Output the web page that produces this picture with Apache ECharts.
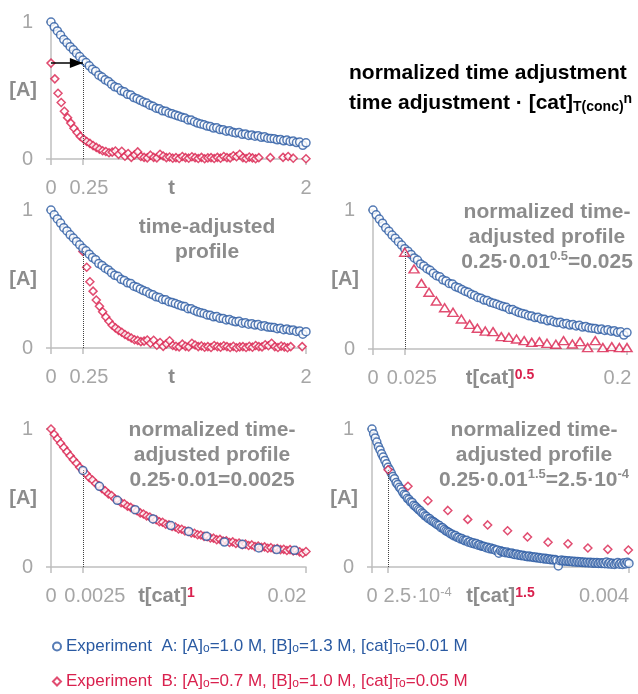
<!DOCTYPE html>
<html><head><meta charset="utf-8">
<script src="https://cdn.jsdelivr.net/npm/echarts@6/dist/echarts.min.js"></script>
<style>html,body{margin:0;padding:0;background:#fff}#c{width:638px;height:694px}</style>
</head><body><div id="c"></div>
<script>
// ---------- data ----------
// Experiment A sampling times and normalized [A]
const blueT = [0,0.025,0.05,0.075,0.1,0.125,0.15,0.175,0.2,0.225,0.25,0.275,0.3,0.325,0.35,0.375,0.4,0.425,0.45,0.475,0.5,0.525,0.55,0.575,0.6,0.625,0.65,0.675,0.7,0.725,0.75,0.775,0.8,0.825,0.85,0.875,0.9,0.925,0.95,0.975,1,1.025,1.05,1.075,1.1,1.125,1.15,1.175,1.2,1.225,1.25,1.275,1.3,1.325,1.35,1.375,1.4,1.425,1.45,1.475,1.5,1.525,1.55,1.575,1.6,1.625,1.65,1.675,1.7,1.725,1.75,1.775,1.8,1.825,1.85,1.875,1.9,1.925,1.95,1.975,2,2.025,2.05,2.075,2.1,2.125,2.15,2.175,2.2,2.225,2.25,2.275,2.3,2.325,2.35,2.375,2.4,2.425,2.45,2.475,2.5,2.525,2.55,2.575,2.6,2.625,2.65,2.675,2.7,2.725,2.75,2.775,2.8,2.825,2.85,2.875,2.9,2.925,2.95,2.975,3,3.025,3.05,3.075,3.1,3.125,3.15,3.175,3.2,3.225,3.25,3.275,3.3,3.325,3.35,3.375,3.4,3.425,3.45,3.475,3.5,3.525,3.55,3.575,3.6,3.625,3.65,3.675,3.7,3.725,3.75,3.775,3.8,3.825,3.85,3.875,3.9,3.925,3.95,3.975,4];
const blueA = [1.000,0.965,0.935,0.905,0.872,0.848,0.820,0.797,0.772,0.748,
0.722,0.704,0.680,0.655,0.640,0.612,0.598,0.578,0.566,0.545,
0.527,0.520,0.498,0.490,0.472,0.468,0.448,0.440,0.428,0.416,
0.408,0.393,0.385,0.371,0.366,0.352,0.349,0.336,0.330,0.322,
0.313,0.305,0.300,0.285,0.284,0.272,0.262,0.256,0.250,0.240,
0.237,0.226,0.228,0.215,0.214,0.203,0.206,0.196,0.190,0.193,
0.180,0.183,0.172,0.176,0.166,0.170,0.158,0.162,0.152,0.150,
0.148,0.140,0.143,0.133,0.138,0.128,0.131,0.120,0.124,0.100,
0.118,
0.112,0.110,0.104,0.108,0.100,0.098,0.102,0.094,0.090,0.095,
0.086,0.088,0.082,0.085,0.078,0.080,0.074,0.079,0.072,0.075,
0.068,0.072,0.065,0.068,0.062,0.066,0.058,0.063,0.056,0.060,
0.053,0.057,0.050,0.055,0.048,0.008,0.046,0.050,0.043,0.047,
0.041,0.045,0.039,0.043,0.037,0.041,0.035,0.039,0.034,0.038,
0.032,0.036,0.030,0.035,0.029,0.034,0.028,0.033,0.027,0.032,
0.026,0.031,0.025,0.030,0.024,0.036,0.022,0.030,0.020,0.028,
0.018,0.026,0.032,0.020,0.028,0.018,0.030,0.022,0.034,0.026];

// Experiment B sampling times and [A]
const redT = [0,0.03,0.055,0.08,0.105,0.13,0.155,0.18,0.205,0.23,
0.255,0.28,0.305,0.33,0.355,0.38,0.405,0.43,0.455,0.48,
0.505,0.53,0.555,0.58,0.605,0.63,0.655,0.68,0.705,0.73,
0.755,0.78,0.805,0.83,0.855,0.88,0.905,0.93,0.955,0.98,
1.005,1.03,1.055,1.08,1.105,1.13,1.155,1.18,1.205,1.23,
1.255,1.28,1.305,1.33,1.355,1.38,1.405,1.43,1.455,1.48,
1.505,1.53,1.555,1.58,1.605,1.63,1.72,1.82,1.86,1.9,2];
const redA = [0.700,0.585,0.480,0.412,0.348,0.302,0.262,0.224,0.194,0.165,
0.146,0.128,0.114,0.098,0.085,0.072,0.060,0.055,0.046,0.050,
0.058,0.034,0.056,0.020,0.040,0.012,0.030,0.052,0.018,0.012,
0.008,0.028,0.012,0.008,0.034,0.022,0.010,0.015,0.006,0.010,
0.004,0.018,0.010,0.006,0.016,0.010,0.004,0.012,0.002,0.008,
0.010,0.004,0.012,0.006,0.018,0.010,0.008,0.024,0.016,0.034,
0.010,0.004,0.014,0.008,0.002,0.010,0.010,0.012,0.018,0.006,
0.002];

// panel 3: experiment B, t[cat]^0.5 (triangles)
const triX = [0.025,0.0323,0.0381,0.0441,0.0499,0.0564,0.063,0.0696,0.0761,0.0822,0.0884,0.0945,0.101,0.107,0.113,0.119,0.125,0.131,0.137,0.144,0.150,0.157,0.163,0.169,0.175,0.181,0.188,0.194,0.200];
const triA = [0.696,0.576,0.472,0.408,0.345,0.297,0.264,0.216,0.177,0.149,0.129,0.125,0.089,0.084,0.072,0.060,0.048,0.053,0.041,0.034,0.060,0.036,0.053,0.010,0.060,0.010,0.017,0.010,0.010];

// panel 4: dense experiment B profile (on blueT grid, x = t*0.01), sparse experiment A
const red4A = [1.000,0.962,0.930,0.897,0.866,0.836,0.806,0.778,0.752,0.722,
0.700,0.676,0.648,0.630,0.605,0.590,0.568,0.552,0.530,0.518,
0.495,0.484,0.466,0.458,0.440,0.432,0.418,0.408,0.392,0.384,
0.370,0.362,0.348,0.342,0.328,0.324,0.310,0.306,0.294,0.290,
0.276,0.274,0.262,0.258,0.246,0.245,0.234,0.232,0.222,0.220,
0.210,0.209,0.198,0.200,0.188,0.190,0.178,0.182,0.170,0.174,
0.162,0.166,0.156,0.160,0.148,0.152,0.142,0.146,0.136,0.140,
0.130,0.134,0.126,0.128,0.120,0.126,0.116,0.120,0.110,0.100,
0.112];
const sparse4X = [0.0025,0.0038,0.0052,0.0066,0.0080,0.0094,0.0108,0.0122,0.0136,0.0150,0.0163,0.0177,0.0191];
const sparse4A = [0.70,0.585,0.483,0.415,0.348,0.30,0.258,0.222,0.181,0.164,0.138,0.126,0.121];

// panel 5: sparse experiment B
const sparse5X = [0.00025,0.00056,0.00087,0.00118,0.00149,0.0018,0.00211,0.00242,0.00274,0.00305,0.00336,0.00367,0.00399];
const sparse5A = [0.705,0.585,0.48,0.41,0.345,0.305,0.263,0.218,0.18,0.168,0.138,0.128,0.123];

// time adjustment constants
const catScale = [1, 1, 0.1, 0.01, 0.001];          // [cat]^n, [cat]=0.01
const shiftB = 0.25;                                  // time adjustment of panel 2
const adjT = [0.25, 0.25, 0.025, 0.0025, 0.00025];    // dotted markers
const adjLevel = 0.7;

// axes / tick labels
const xMax = [2, 2, 0.2, 0.02, 0.004];
const xMid = adjT;
const midLabels = ['{m1|0.25}', '{m1|0.25}', '{m2|0.025}', '{m3|0.0025}', '{m4|2.5·10}{ms|-4}'];
const maxLabels = ['2', '2', '{r3|0.2}', '{r4|0.02}', '{r5|0.004}'];
const xNames = ['t', 't', '{n|t[cat]}{s|0.5}', '{n|t[cat]}{s|1}', '{n|t[cat]}{s|1.5}'];
const xNamePadR = [14, 14, 0, 24, 0];
const legendNames = ['Experiment A', 'Experiment B'];
const legendLabels = {
  'Experiment A': 'Experiment  A: [A]{sa|o}=1.0 M, [B]{sa|o}=1.3 M, [cat]{sa|To}=0.01 M',
  'Experiment B': 'Experiment  B: [A]{sb|o}=0.7 M, [B]{sb|o}=1.0 M, [cat]{sb|To}=0.05 M'
};

// ---------- styling ----------
const FONT = '"Liberation Sans", Arial, Helvetica, sans-serif';
// legend uses a narrow face when one is installed
function hasFont(name) {
  const c = document.createElement('canvas').getContext('2d');
  c.font = '20px monospace'; const a = c.measureText('Experiment A: [cat]').width;
  c.font = '20px "' + name + '", monospace'; const b = c.measureText('Experiment A: [cat]').width;
  return Math.abs(a - b) > 0.5;
}
const NARROW = hasFont('Liberation Sans Narrow') ? 'Liberation Sans Narrow' : (hasFont('Arial Narrow') ? 'Arial Narrow' : null);
const LEG_FONT = NARROW ? '"' + NARROW + '", ' + FONT : FONT;
const LEG_SIZE = NARROW ? 19 : 17;
const LEG_SUB = NARROW ? 12 : 12;

const BLUE = '#2a5aa2', RED = '#d9214e';
const AXIS_C = '#bfbfbf', TICK_C = '#a6a6a6', NAME_C = '#8c8c8c';

const grids = [
  {left:51, top:22, width:255, height:137},
  {left:51, top:210, width:255, height:138},
  {left:373, top:210, width:254, height:139},
  {left:51, top:429, width:255, height:138},
  {left:372, top:429, width:257, height:138}
].map(g => Object.assign({containLabel:false, outerBoundsMode:'none'}, g));

const tickRich = {
  m1:{padding:[0,0,0,12], fontSize:20, color:TICK_C, fontFamily:FONT},
  m2:{padding:[0,0,0,14], fontSize:20, color:TICK_C, fontFamily:FONT},
  m3:{padding:[0,0,0,24], fontSize:20, color:TICK_C, fontFamily:FONT},
  m4:{padding:[0,0,0,59], fontSize:20, color:TICK_C, fontFamily:FONT},
  ms:{fontSize:13, color:TICK_C, fontFamily:FONT, verticalAlign:'top', lineHeight:12},
  r3:{padding:[0,19,0,0], fontSize:20, color:TICK_C, fontFamily:FONT},
  r4:{padding:[0,38,0,0], fontSize:20, color:TICK_C, fontFamily:FONT},
  r5:{padding:[0,50,0,0], fontSize:20, color:TICK_C, fontFamily:FONT}
};

const xAxes = grids.map((g, i) => ({
  type:'value', gridIndex:i, min:0, max:xMax[i],
  axisLine:{show:true, onZero:false, lineStyle:{color:AXIS_C, width:1.5}},
  axisTick:{show:true, customValues:[0, xMid[i], xMax[i]], length:6, lineStyle:{color:AXIS_C, width:1.5}},
  axisLabel:{customValues:[0, xMid[i], xMax[i]], margin:19, color:TICK_C, fontSize:20, fontFamily:FONT,
    hideOverlap:false,
    formatter: v => (Math.abs(v - xMid[i]) < 1e-12 ? midLabels[i] : (Math.abs(v - xMax[i]) < 1e-12 ? maxLabels[i] : String(v))),
    rich:tickRich},
  splitLine:{show:false},
  name:xNames[i], nameLocation:'middle', nameGap:19, nameMoveOverlap:false,
  nameTextStyle:{color:NAME_C, fontSize:20, fontWeight:'bold', fontFamily:FONT, padding:[0, xNamePadR[i], 0, 0],
    rich:{
      n:{color:NAME_C, fontSize:20, fontWeight:'bold', fontFamily:FONT},
      s:{color:RED, fontSize:14, fontWeight:'bold', fontFamily:FONT, verticalAlign:'top', lineHeight:13}
    }}
}));

const yAxes = grids.map((g, i) => ({
  type:'value', gridIndex:i, min:0, max:1, interval:1,
  axisLine:{show:true, onZero:false, lineStyle:{color:AXIS_C, width:1.5}},
  axisTick:{show:true, length:5, lineStyle:{color:AXIS_C, width:1.5}},
  axisLabel:{margin:18, color:TICK_C, fontSize:20, fontFamily:FONT},
  splitLine:{show:false},
  name:'[A]', nameLocation:'middle', nameRotate:0, nameGap:14, nameMoveOverlap:false,
  nameTextStyle:{color:NAME_C, fontSize:20, fontWeight:'bold', fontFamily:FONT}
}));

function scatter(name, gi, data, symbol, size, color, z) {
  return {type:'scatter', name, xAxisIndex:gi, yAxisIndex:gi, data, symbol, symbolSize:size, z:z||2,
    itemStyle:{color:'#fff', borderColor:color, borderWidth:1.5},
    emphasis:{disabled:true}, animation:false, clip:true, silent:true};
}
const pairs = (xs, ys, scale, shift) => xs.map((x, k) => [x * (scale == null ? 1 : scale) + (shift || 0), ys[k]]);

const series = [];
// panel 1
series.push(scatter('Experiment B', 0, pairs(redT, redA), 'diamond', 8, RED, 2));
series.push(scatter('Experiment A', 0, pairs(blueT, blueA, catScale[0]), 'circle', 8, BLUE, 3));
// panel 2
series.push(scatter('Experiment B', 1, pairs(redT, redA, 1, shiftB), 'diamond', 8, RED, 2));
series.push(scatter('Experiment A', 1, pairs(blueT, blueA, catScale[1]), 'circle', 8, BLUE, 3));
// panel 3
series.push(scatter('Experiment A', 2, pairs(blueT, blueA, catScale[2]), 'circle', 8, BLUE, 2));
series.push(scatter('Experiment B', 2, pairs(triX, triA), 'triangle', [10, 8], RED, 3));
// panel 4
series.push(scatter('Experiment B', 3, pairs(blueT.slice(0, red4A.length), red4A, catScale[3]), 'diamond', 8, RED, 2));
series.push(scatter('Experiment A', 3, pairs(sparse4X, sparse4A), 'circle', 8, BLUE, 3));
// panel 5
series.push(scatter('Experiment A', 4, pairs(blueT, blueA, catScale[4]), 'circle', 8, BLUE, 2));
series.push(scatter('Experiment B', 4, pairs(sparse5X, sparse5A), 'diamond', 8, RED, 3));

// dotted time-adjustment markers (+ arrow in panel 1)
grids.forEach((g, i) => {
  const data = [[{coord:[adjT[i], 0]}, {coord:[adjT[i], adjLevel]}]];
  if (i === 0) {
    data.push([
      {coord:[0, adjLevel], symbol:'none', lineStyle:{type:'solid', color:'#000', width:1.5}},
      {coord:[adjT[0], adjLevel], symbol:'triangle', symbolSize:[10, 13], symbolOffset:[0, '50%']}
    ]);
  }
  series.push({type:'scatter', xAxisIndex:i, yAxisIndex:i, data:[], silent:true, z:5,
    markLine:{silent:true, animation:false, symbol:['none','none'], label:{show:false},
      lineStyle:{type:'dotted', color:'#404040', width:1}, emphasis:{disabled:true}, data}});
});

const titleStyle = (text, x, y) => ({type:'text', x, y, silent:true, style:{
  text, fill:NAME_C, font:'bold 21px ' + FONT, align:'center', verticalAlign:'middle', lineHeight:25,
  rich:{sup:{fill:NAME_C, fontSize:13, fontWeight:'bold', fontFamily:FONT, verticalAlign:'top', lineHeight:14}}
}});

const legendCommon = {
  left:52, orient:'horizontal', padding:0, itemWidth:8, itemHeight:8, itemGap:0, selectedMode:false,
  textStyle:{fontSize:LEG_SIZE, fontFamily:LEG_FONT,
    rich:{sa:{fontSize:LEG_SUB, color:BLUE, fontFamily:LEG_FONT, verticalAlign:'bottom', lineHeight:12},
          sb:{fontSize:LEG_SUB, color:RED, fontFamily:LEG_FONT, verticalAlign:'bottom', lineHeight:12}}},
  formatter: n => legendLabels[n]
};

const option = {
  animation:false,
  grid:grids,
  xAxis:xAxes,
  yAxis:yAxes,
  series,
  legend:[
    Object.assign({top:638, data:[{name:legendNames[0], textStyle:{color:BLUE}}]}, legendCommon),
    Object.assign({top:673, data:[{name:legendNames[1], textStyle:{color:RED}}]}, legendCommon)
  ],
  graphic:[
    {type:'text', x:349, y:73, silent:true, style:{text:'normalized time adjustment', fill:'#000',
      font:'bold 21px ' + FONT, align:'left', verticalAlign:'middle'}},
    {type:'text', x:349, y:103, silent:true, style:{text:'time adjustment · [cat]{sub|T(conc)}{sup|n}', fill:'#000',
      font:'bold 21px ' + FONT, align:'left', verticalAlign:'middle', lineHeight:22,
      rich:{sub:{fill:'#000', fontSize:14, fontWeight:'bold', fontFamily:FONT, verticalAlign:'bottom', lineHeight:12},
            sup:{fill:'#000', fontSize:14, fontWeight:'bold', fontFamily:FONT, verticalAlign:'top', lineHeight:12}}}},
    titleStyle('time-adjusted\nprofile', 207, 240),
    titleStyle('normalized time-\nadjusted profile\n0.25·0.01{sup|0.5}=0.025', 547, 237),
    titleStyle('normalized time-\nadjusted profile\n0.25·0.01=0.0025', 212, 455),
    titleStyle('normalized time-\nadjusted profile\n0.25·0.01{sup|1.5}=2.5·10{sup|-4}', 534, 455)
  ]
};

const chart = echarts.init(document.getElementById('c'), null, {renderer:'canvas'});
chart.setOption(option);
</script>
</body></html>
